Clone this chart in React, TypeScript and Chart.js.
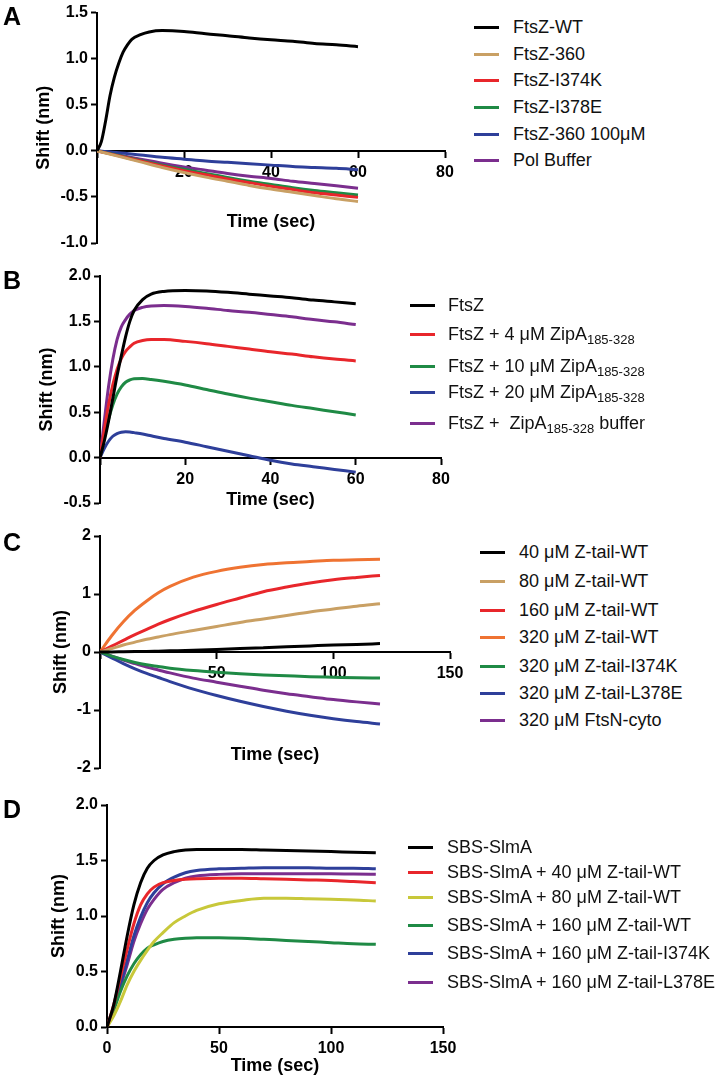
import React, { useEffect, useRef } from "react";
import { Chart, registerables } from "chart.js";
Chart.register(...registerables);

const FONT = '"Liberation Sans", Arial, Helvetica, sans-serif';
Chart.defaults.font.family = FONT;

// ---------- colours ----------
const BLACK = "#000000";
const TAN = "#c9a064";
const RED = "#e8262b";
const GREEN = "#1f8a45";
const BLUE = "#2e3f9a";
const PURPLE = "#7b2e8e";
const ORANGE = "#ef7332";
const YELLOW = "#c8c83a";

// ---------- Panel A ----------
const timeA = [0, 1, 2, 3, 4, 5, 6, 7, 8, 10, 12, 15, 20, 25, 30, 35, 40, 45, 50, 55, 60];
const aWT = [0, 0.1, 0.33, 0.6, 0.8, 0.95, 1.07, 1.15, 1.21, 1.26, 1.29, 1.305, 1.295, 1.27, 1.25, 1.225, 1.205, 1.19, 1.165, 1.15, 1.13];
const timeA2 = [0, 5, 10, 15, 20, 25, 30, 35, 40, 45, 50, 55, 60];
const a360 = [0, -0.06, -0.12, -0.18, -0.235, -0.285, -0.33, -0.375, -0.415, -0.45, -0.485, -0.52, -0.55];
const aI374K = [0, -0.055, -0.11, -0.165, -0.215, -0.26, -0.305, -0.345, -0.385, -0.42, -0.455, -0.48, -0.505];
const aI378E = [0, -0.05, -0.105, -0.155, -0.2, -0.245, -0.29, -0.33, -0.365, -0.4, -0.43, -0.455, -0.48];
const a360hi = [0, -0.02, -0.045, -0.07, -0.09, -0.11, -0.125, -0.14, -0.155, -0.17, -0.18, -0.19, -0.205];
const aPol = [0, -0.045, -0.09, -0.135, -0.175, -0.21, -0.245, -0.275, -0.3, -0.33, -0.355, -0.38, -0.405];
const labelsA = ["FtsZ-WT", "FtsZ-360", "FtsZ-I374K", "FtsZ-I378E", "FtsZ-360 100μM", "Pol Buffer"];

// ---------- Panel B ----------
const timeB = [0, 1, 2, 3, 4, 5, 6, 7, 8, 10, 12, 15, 20, 25, 30, 35, 40, 45, 50, 55, 60];
const bFtsZ = [0, 0.18, 0.4, 0.65, 0.9, 1.12, 1.33, 1.5, 1.62, 1.74, 1.8, 1.83, 1.84, 1.835, 1.82, 1.8, 1.78, 1.76, 1.735, 1.715, 1.695];
const b4 = [0, 0.3, 0.58, 0.8, 0.97, 1.09, 1.17, 1.22, 1.26, 1.29, 1.3, 1.3, 1.28, 1.255, 1.225, 1.195, 1.165, 1.14, 1.11, 1.085, 1.065];
const b10 = [0, 0.22, 0.42, 0.58, 0.7, 0.78, 0.83, 0.855, 0.868, 0.87, 0.86, 0.84, 0.8, 0.75, 0.7, 0.655, 0.615, 0.575, 0.54, 0.505, 0.47];
const b20 = [0, 0.1, 0.18, 0.235, 0.265, 0.28, 0.285, 0.282, 0.275, 0.26, 0.24, 0.21, 0.17, 0.12, 0.07, 0.02, -0.03, -0.07, -0.1, -0.13, -0.16];
const bBuf = [0, 0.4, 0.78, 1.08, 1.3, 1.44, 1.52, 1.58, 1.62, 1.655, 1.67, 1.675, 1.665, 1.645, 1.62, 1.6, 1.575, 1.55, 1.52, 1.495, 1.465];
const labelsB = [
  "FtsZ",
  "FtsZ + 4 μM ZipA_{185-328}",
  "FtsZ + 10 μM ZipA_{185-328}",
  "FtsZ + 20 μM ZipA_{185-328}",
  "FtsZ +  ZipA_{185-328} buffer",
];

// ---------- Panel C ----------
const timeC = [0, 5, 10, 15, 20, 25, 30, 40, 50, 60, 70, 80, 90, 100, 110, 120];
const c40 = [0, 0, 0.005, 0.008, 0.01, 0.015, 0.02, 0.03, 0.045, 0.06, 0.075, 0.09, 0.105, 0.12, 0.13, 0.145];
const c80 = [0, 0.06, 0.12, 0.17, 0.22, 0.26, 0.3, 0.37, 0.44, 0.51, 0.57, 0.63, 0.69, 0.74, 0.79, 0.83];
const c160 = [0, 0.1, 0.2, 0.3, 0.39, 0.48, 0.56, 0.7, 0.82, 0.93, 1.04, 1.12, 1.19, 1.245, 1.285, 1.32];
const c320 = [0, 0.28, 0.52, 0.72, 0.88, 1.02, 1.13, 1.29, 1.39, 1.46, 1.51, 1.54, 1.56, 1.58, 1.59, 1.6];
const cI374K = [0, -0.07, -0.13, -0.18, -0.22, -0.25, -0.28, -0.32, -0.35, -0.375, -0.395, -0.41, -0.425, -0.435, -0.445, -0.45];
const cL378E = [0, -0.1, -0.2, -0.29, -0.37, -0.44, -0.51, -0.64, -0.75, -0.85, -0.94, -1.02, -1.09, -1.15, -1.2, -1.24];
const cFtsN = [0, -0.07, -0.14, -0.2, -0.26, -0.31, -0.36, -0.45, -0.52, -0.59, -0.66, -0.72, -0.77, -0.82, -0.86, -0.895];
const labelsC = [
  "40 μM Z-tail-WT",
  "80 μM Z-tail-WT",
  "160 μM Z-tail-WT",
  "320 μM Z-tail-WT",
  "320 μM Z-tail-I374K",
  "320 μM Z-tail-L378E",
  "320 μM FtsN-cyto",
];

// ---------- Panel D ----------
const timeD = [0, 3, 6, 9, 12, 15, 18, 21, 25, 30, 35, 40, 50, 60, 70, 80, 90, 100, 110, 120];
const dSlmA = [0, 0.2, 0.5, 0.82, 1.1, 1.3, 1.43, 1.5, 1.55, 1.58, 1.595, 1.6, 1.6, 1.6, 1.595, 1.59, 1.585, 1.58, 1.575, 1.57];
const d40 = [0, 0.2, 0.45, 0.7, 0.93, 1.1, 1.2, 1.26, 1.3, 1.32, 1.33, 1.335, 1.34, 1.34, 1.335, 1.33, 1.325, 1.32, 1.31, 1.3];
const d80 = [0, 0.1, 0.23, 0.38, 0.5, 0.6, 0.69, 0.77, 0.85, 0.94, 1.0, 1.05, 1.11, 1.14, 1.16, 1.16, 1.155, 1.15, 1.145, 1.135];
const d160 = [0, 0.15, 0.32, 0.46, 0.57, 0.65, 0.71, 0.74, 0.77, 0.79, 0.8, 0.805, 0.805, 0.8, 0.79, 0.78, 0.77, 0.76, 0.75, 0.745];
const dI374K = [0, 0.17, 0.38, 0.6, 0.82, 0.99, 1.12, 1.21, 1.29, 1.35, 1.39, 1.41, 1.425, 1.43, 1.435, 1.435, 1.435, 1.43, 1.43, 1.425];
const dL378E = [0, 0.16, 0.36, 0.56, 0.77, 0.93, 1.06, 1.15, 1.24, 1.3, 1.34, 1.36, 1.375, 1.38, 1.38, 1.38, 1.38, 1.38, 1.378, 1.377];
const labelsD = [
  "SBS-SlmA",
  "SBS-SlmA + 40 μM Z-tail-WT",
  "SBS-SlmA + 80 μM Z-tail-WT",
  "SBS-SlmA + 160 μM Z-tail-WT",
  "SBS-SlmA + 160 μM Z-tail-I374K",
  "SBS-SlmA + 160 μM Z-tail-L378E",
];

type Series = { label: string; color: string; time: number[]; values: number[] };
type PanelCfg = {
  letter: string;
  letterTop: number;
  top: number;
  height: number;
  padTop: number;
  padBottom: number;
  padRight: number;
  yLeft: number;
  yTitleX: number;
  xMin: number;
  xMax: number;
  xStep: number;
  yMin: number;
  yMax: number;
  yStep: number;
  yDec: number;
  hideZeroX: boolean;
  titleGap: number;
  legendLine: number;
  legendText: number;
  legendRows: number[];
  series: Series[];
};

const panels: PanelCfg[] = [
  {
    letter: "A", letterTop: 4, top: 0, height: 262, padTop: 12, padBottom: 19, padRight: 25,
    yLeft: 97, yTitleX: 44, xMin: 0, xMax: 80, xStep: 20, yMin: -1, yMax: 1.5, yStep: 0.5, yDec: 1,
    hideZeroX: true, titleGap: 71, legendLine: 474, legendText: 513, legendRows: [27, 54, 80, 107, 134, 160],
    series: [
      { label: labelsA[0], color: BLACK, time: timeA, values: aWT },
      { label: labelsA[1], color: TAN, time: timeA2, values: a360 },
      { label: labelsA[2], color: RED, time: timeA2, values: aI374K },
      { label: labelsA[3], color: GREEN, time: timeA2, values: aI378E },
      { label: labelsA[4], color: BLUE, time: timeA2, values: a360hi },
      { label: labelsA[5], color: PURPLE, time: timeA2, values: aPol },
    ],
  },
  {
    letter: "B", letterTop: 268, top: 262, height: 258, padTop: 14, padBottom: 17, padRight: 29,
    yLeft: 100, yTitleX: 47, xMin: 0, xMax: 80, xStep: 20, yMin: -0.5, yMax: 2, yStep: 0.5, yDec: 1,
    hideZeroX: true, titleGap: 42, legendLine: 410, legendText: 448, legendRows: [305, 334, 366, 392, 423],
    series: [
      { label: labelsB[0], color: BLACK, time: timeB, values: bFtsZ },
      { label: labelsB[1], color: RED, time: timeB, values: b4 },
      { label: labelsB[2], color: GREEN, time: timeB, values: b10 },
      { label: labelsB[3], color: BLUE, time: timeB, values: b20 },
      { label: labelsB[4], color: PURPLE, time: timeB, values: bBuf },
    ],
  },
  {
    letter: "C", letterTop: 530, top: 520, height: 272, padTop: 16, padBottom: 24, padRight: 20,
    yLeft: 100, yTitleX: 61, xMin: 0, xMax: 150, xStep: 50, yMin: -2, yMax: 2, yStep: 1, yDec: 0,
    hideZeroX: true, titleGap: 103, legendLine: 480, legendText: 519, legendRows: [552, 581, 610, 637, 666, 693, 720],
    series: [
      { label: labelsC[0], color: BLACK, time: timeC, values: c40 },
      { label: labelsC[1], color: TAN, time: timeC, values: c80 },
      { label: labelsC[2], color: RED, time: timeC, values: c160 },
      { label: labelsC[3], color: ORANGE, time: timeC, values: c320 },
      { label: labelsC[4], color: GREEN, time: timeC, values: cI374K },
      { label: labelsC[5], color: BLUE, time: timeC, values: cL378E },
      { label: labelsC[6], color: PURPLE, time: timeC, values: cFtsN },
    ],
  },
  {
    letter: "D", letterTop: 797, top: 792, height: 293, padTop: 13, padBottom: 58, padRight: 27,
    yLeft: 107, yTitleX: 59, xMin: 0, xMax: 150, xStep: 50, yMin: 0, yMax: 2, yStep: 0.5, yDec: 1,
    hideZeroX: false, titleGap: 39, legendLine: 408, legendText: 447, legendRows: [847, 872, 897, 925, 953, 982],
    series: [
      { label: labelsD[0], color: BLACK, time: timeD, values: dSlmA },
      { label: labelsD[1], color: RED, time: timeD, values: d40 },
      { label: labelsD[2], color: YELLOW, time: timeD, values: d80 },
      { label: labelsD[3], color: GREEN, time: timeD, values: d160 },
      { label: labelsD[4], color: BLUE, time: timeD, values: dI374K },
      { label: labelsD[5], color: PURPLE, time: timeD, values: dL378E },
    ],
  },
];

const CANVAS_W = 470;
const TITLE_SIZE = 18;
const TICK_SIZE = 16;
const HALF_LINE = (TITLE_SIZE * 1.2) / 2;

function renderLabel(text: string) {
  const parts = text.split(/_\{([^}]*)\}/);
  return parts.map((p, i) =>
    i % 2 === 1 ? (
      <sub key={i} style={{ fontSize: 13, verticalAlign: "-4px", lineHeight: 0 }}>{p}</sub>
    ) : (
      <span key={i}>{p}</span>
    )
  );
}

function Panel({ cfg }: { cfg: PanelCfg }) {
  const ref = useRef<HTMLCanvasElement>(null);
  useEffect(() => {
    if (!ref.current) return;
    const chart = new Chart(ref.current, {
      type: "line",
      data: {
        datasets: cfg.series.map((s) => ({
          label: s.label,
          data: s.time.map((t, i) => ({ x: t, y: s.values[i] })),
          borderColor: s.color,
          backgroundColor: s.color,
          borderWidth: 3,
          pointRadius: 0,
          pointHoverRadius: 0,
          fill: false,
          cubicInterpolationMode: "monotone",
        })),
      },
      options: {
        responsive: false,
        animation: false,
        devicePixelRatio: 1,
        events: [],
        layout: { padding: { left: 0, top: cfg.padTop, right: cfg.padRight, bottom: cfg.padBottom } },
        plugins: { legend: { display: false }, tooltip: { enabled: false } },
        scales: {
          x: {
            type: "linear",
            min: cfg.xMin,
            max: cfg.xMax,
            position: { y: 0 } as any,
            afterFit: (s: any) => {
              s.height = 0;
            },
            ticks: {
              stepSize: cfg.xStep,
              autoSkip: false,
              maxRotation: 0,
              padding: 6,
              color: "#000",
              font: { size: TICK_SIZE, weight: "bold" },
              callback: (v: any) => (cfg.hideZeroX && Number(v) === 0 ? "" : String(v)),
            },
            grid: { drawOnChartArea: false, drawTicks: true, tickLength: 6, tickWidth: 2, tickColor: "#000" },
            border: { display: true, color: "#000", width: 2 },
            title: {
              display: true,
              text: "Time (sec)",
              color: "#000",
              font: { size: TITLE_SIZE, weight: "bold" },
              padding: { top: 0, bottom: -cfg.titleGap - HALF_LINE },
            },
          },
          y: {
            type: "linear",
            min: cfg.yMin,
            max: cfg.yMax,
            position: "left",
            afterFit: (s: any) => {
              s.width = cfg.yLeft;
            },
            ticks: {
              stepSize: cfg.yStep,
              padding: 3,
              color: "#000",
              font: { size: TICK_SIZE, weight: "bold" },
              callback: (v: any) => Number(v).toFixed(cfg.yDec),
            },
            grid: { drawOnChartArea: false, drawTicks: true, tickLength: 6, tickWidth: 2, tickColor: "#000" },
            border: { display: true, color: "#000", width: 2 },
            title: {
              display: true,
              text: "Shift (nm)",
              color: "#000",
              font: { size: TITLE_SIZE, weight: "bold" },
              padding: { top: cfg.yTitleX - HALF_LINE, bottom: 0 },
            },
          },
        },
      },
    });
    return () => chart.destroy();
  }, [cfg]);

  return (
    <>
      <canvas
        ref={ref}
        width={CANVAS_W}
        height={cfg.height}
        style={{ position: "absolute", left: 0, top: cfg.top, width: CANVAS_W, height: cfg.height }}
      />
      <div
        style={{
          position: "absolute",
          left: 3,
          top: cfg.letterTop,
          fontFamily: FONT,
          fontWeight: "bold",
          fontSize: 25,
          lineHeight: "25px",
          color: "#000",
        }}
      >
        {cfg.letter}
      </div>
      {cfg.series.map((s, i) => (
        <div
          key={i}
          style={{
            position: "absolute",
            left: cfg.legendLine,
            top: cfg.legendRows[i] - 12,
            height: 24,
            display: "flex",
            alignItems: "center",
            whiteSpace: "pre",
            fontFamily: FONT,
            fontSize: 18,
            color: "#111",
          }}
        >
          <div style={{ width: 25, height: 3, background: s.color, marginRight: cfg.legendText - cfg.legendLine - 25 }} />
          <span style={{ lineHeight: "24px" }}>{renderLabel(s.label)}</span>
        </div>
      ))}
    </>
  );
}

export default function App() {
  return (
    <div style={{ position: "absolute", left: 0, top: 0, width: 725, height: 1085, background: "#fff", overflow: "hidden" }}>
      {panels.map((p) => (
        <Panel key={p.letter} cfg={p} />
      ))}
    </div>
  );
}
